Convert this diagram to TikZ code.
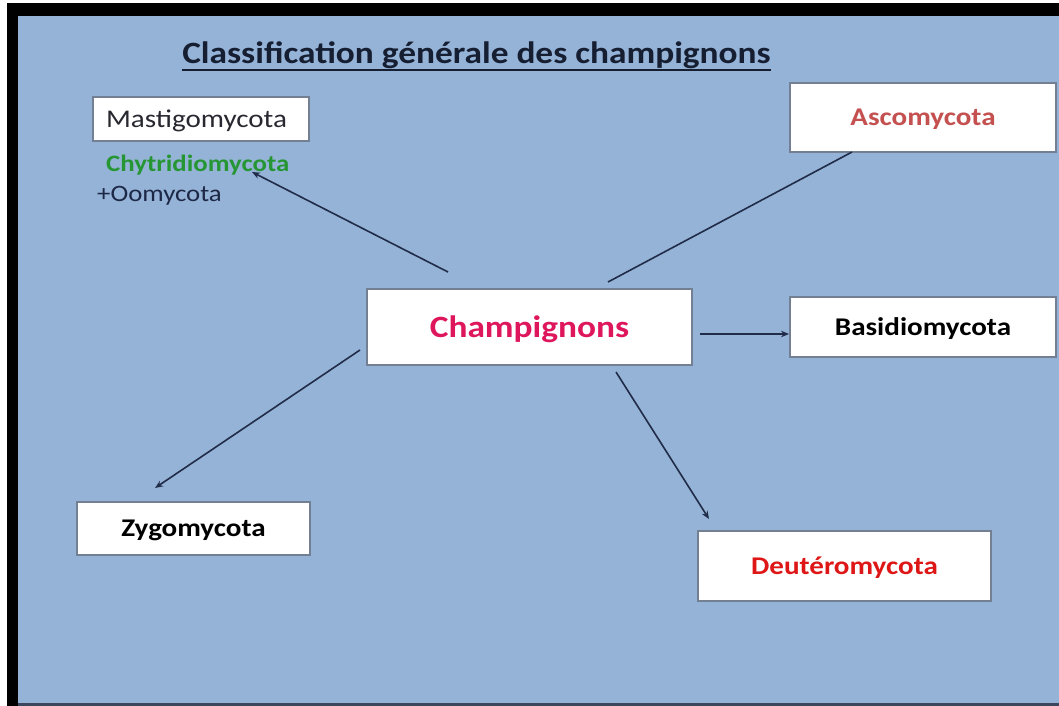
\documentclass[tikz,border=0pt]{standalone}
\usepackage{fontspec}
\setmainfont{Carlito}[FakeStretch=1.14]
\usetikzlibrary{arrows.meta,calc}
\definecolor{bgblue}{RGB}{149,179,215}
\definecolor{titlecol}{RGB}{22,30,50}
\definecolor{boxline}{RGB}{115,128,148}
\definecolor{arrowcol}{RGB}{32,44,72}
\definecolor{greencol}{RGB}{38,150,52}
\definecolor{ascocol}{RGB}{196,80,80}
\definecolor{champcol}{RGB}{222,22,92}
\definecolor{deutcol}{RGB}{222,22,22}
\definecolor{darktext}{RGB}{40,40,48}
\definecolor{navytext}{RGB}{28,40,70}
\definecolor{bottomline}{RGB}{60,70,92}
\tikzset{
  box/.style={draw=boxline, line width=1.2pt, fill=white, rectangle, inner sep=0pt, text depth=0pt},
  conn/.style={draw=arrowcol, line width=1.6pt},
  arr/.style={conn, -{Stealth[length=8pt,width=6.5pt]}},
  plain/.style={inner sep=0pt, anchor=base west}
}
\begin{document}
\begin{tikzpicture}[x=1pt,y=-1pt]
\useasboundingbox (0,0) rectangle (1059,706);
\fill[white] (0,0) rectangle (1059,706);
\fill[black] (7,3) rectangle (1059,706);
\fill[bgblue] (18,16) rectangle (1059,703);
\fill[bottomline] (18,703) rectangle (1059,706);

% title
\node[inner sep=0pt, anchor=base, font=\fontsize{31}{36}\selectfont\bfseries, text=titlecol] (title) at (476.5,64) {Classification générale des champignons};
\draw[titlecol, line width=2pt] ([yshift=-6pt]title.base west) -- ([yshift=-6pt]title.base east);

% boxes
\node[box, minimum width=216pt, minimum height=44pt, font=\fontsize{25.5}{30}\selectfont, text=darktext] (masti) at (201,119) {\hspace*{-9pt}Mastigomycota};
\node[plain, font=\fontsize{23.5}{28}\selectfont\bfseries, text=greencol] (chyt) at (106,171.5) {Chytridiomycota};
\node[plain, font=\fontsize{23.5}{28}\selectfont, text=navytext] (oomy) at (97,201.5) {+Oomycota};

\node[box, minimum width=266pt, minimum height=69pt, font=\fontsize{25.5}{30}\selectfont\bfseries, text=ascocol] (asco) at (923,117.5) {Ascomycota};
\node[box, minimum width=325pt, minimum height=76pt, font=\fontsize{31}{36}\selectfont\bfseries, text=champcol] (champ) at (529.5,327) {Champignons};
\node[box, minimum width=266pt, minimum height=60pt, font=\fontsize{25.5}{30}\selectfont\bfseries, text=black] (basid) at (923,327) {Basidiomycota};
\node[box, minimum width=233pt, minimum height=53pt, font=\fontsize{25.5}{30}\selectfont\bfseries, text=black] (zygo) at (193.5,528.5) {Zygomycota};
\node[box, minimum width=293pt, minimum height=70pt, font=\fontsize{25.5}{30}\selectfont\bfseries, text=deutcol] (deut) at (844.5,566) {Deutéromycota};

% connector end points
\coordinate (s1) at (448,272);
\coordinate (e1) at (252,172);
\coordinate (s2) at (608,282);
\coordinate (e2) at (852,152);
\coordinate (s3) at (700,334);
\coordinate (e3) at (789,334);
\coordinate (s4) at (360,350);
\coordinate (e4) at (155,488);
\coordinate (s5) at (616,372);
\coordinate (e5) at (709,519);

\draw[arr] (s1) -- (e1);
\draw[conn] (s2) -- (e2);
\draw[arr] (s3) -- (e3);
\draw[arr] (s4) -- (e4);
\draw[arr] (s5) -- (e5);
\end{tikzpicture}
\end{document}
